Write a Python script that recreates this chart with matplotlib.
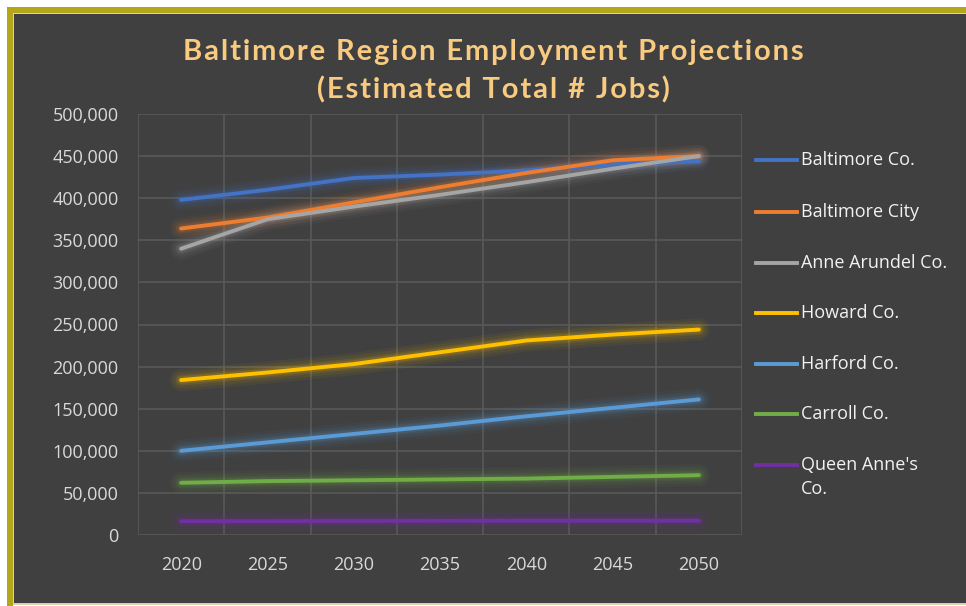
import matplotlib.pyplot as plt
from matplotlib.patches import Rectangle
from matplotlib.lines import Line2D
from matplotlib.ticker import FuncFormatter

years = ['2020', '2025', '2030', '2035', '2040', '2045', '2050']

baltimore_co = [398000, 410000, 424000, 428000, 433000, 440000, 444000]
baltimore_city = [364000, 377000, 395000, 413000, 430000, 445000, 450000]
anne_arundel = [340000, 375000, 390000, 404000, 419000, 435000, 450000]
howard = [184000, 193000, 203000, 217000, 231000, 238000, 244000]
harford = [100000, 110000, 120000, 130000, 141000, 151000, 161000]
carroll = [62000, 64000, 65000, 66000, 67000, 69000, 71000]
queen_annes = [16500, 16500, 16700, 16800, 17000, 17000, 17000]

series = [
    ('Baltimore Co.', baltimore_co, '#4472C4'),
    ('Baltimore City', baltimore_city, '#ED7D31'),
    ('Anne Arundel Co.', anne_arundel, '#A5A5A5'),
    ('Howard Co.', howard, '#FFC000'),
    ('Harford Co.', harford, '#5B9BD5'),
    ('Carroll Co.', carroll, '#70AD47'),
    ("Queen Anne's\nCo.", queen_annes, '#7030A0'),
]

title1 = 'Baltimore Region Employment Projections'
title2 = '(Estimated Total # Jobs)'

plt.rcParams['font.family'] = ['Open Sans', 'DejaVu Sans']

fig = plt.figure(figsize=(9.66, 6.06), dpi=100)
fig.patch.set_facecolor('white')

W, H = 966.0, 606.0
def fx(px):
    return px / W
def fy(py):
    return 1 - py / H
def box(x0, y0, x1, y1, c):
    fig.add_artist(Rectangle((fx(x0), fy(y1)), fx(x1) - fx(x0), fy(y0) - fy(y1),
                             transform=fig.transFigure, facecolor=c, edgecolor='none',
                             zorder=0, antialiased=False))

# frame: olive border on top and left, thin light edges, dark panel
box(7, 7, 966, 13, '#B5A519')
box(7, 7, 13, 606, '#B5A519')
box(13, 13, 966, 605, '#D8D2B0')
box(14, 14, 966, 603, '#404040')

ax = fig.add_axes([fx(138), fy(535), fx(742) - fx(138), fy(114) - fy(535)])
ax.set_facecolor('none')

x = list(range(len(years)))
for name, vals, col in series:
    for lw, a in [(16, 0.05), (12, 0.07), (8, 0.10), (5.5, 0.15)]:
        ax.plot(x, vals, color=col, lw=lw, alpha=a, solid_capstyle='round', zorder=2)
    ax.plot(x, vals, color=col, lw=2.8, solid_capstyle='round', zorder=3)

ax.set_xlim(-0.5, len(years) - 0.5)
ax.set_ylim(0, 500000)
ax.set_yticks(range(0, 500001, 50000))
ax.yaxis.set_major_formatter(FuncFormatter(lambda v, p: '{:,.0f}'.format(v)))
ax.set_xticks(x)
ax.set_xticklabels(years)
ax.set_xticks([i - 0.5 for i in range(len(years) + 1)], minor=True)

ax.grid(axis='y', which='major', color='#595959', lw=1.2)
ax.grid(axis='x', which='minor', color='#595959', lw=1.2)
ax.grid(axis='x', which='major', visible=False)
ax.tick_params(which='both', length=0)
ax.tick_params(axis='y', colors='#D9D9D9', labelsize=13, pad=14)
ax.tick_params(axis='x', colors='#D9D9D9', labelsize=13, pad=15)
for s in ax.spines.values():
    s.set_visible(False)

# title with a little letter spacing (hair spaces)
hs = '\u200a'
for txt, ty in [(title1, 52), (title2, 90)]:
    fig.text(fx(493), fy(ty), hs.join(txt), ha='center', va='center',
             fontsize=21, fontweight='bold', color='#F9CB80',
             family=['Lato', 'DejaVu Sans'])

# legend drawn by hand
leg_y = [160, 212, 263, 313, 364, 414, 465]
for (name, vals, col), ly in zip(series, leg_y):
    fig.add_artist(Line2D([fx(756), fx(797)], [fy(ly), fy(ly)], transform=fig.transFigure,
                          color=col, lw=2.8))
    if '\n' in name:
        fig.text(fx(801), fy(ly - 9), name, ha='left', va='top', fontsize=13,
                 color='#F2F2F2', linespacing=1.45)
    else:
        fig.text(fx(801), fy(ly), name, ha='left', va='center', fontsize=13,
                 color='#F2F2F2')

fig.savefig('out.png', dpi=100, facecolor=fig.get_facecolor())
